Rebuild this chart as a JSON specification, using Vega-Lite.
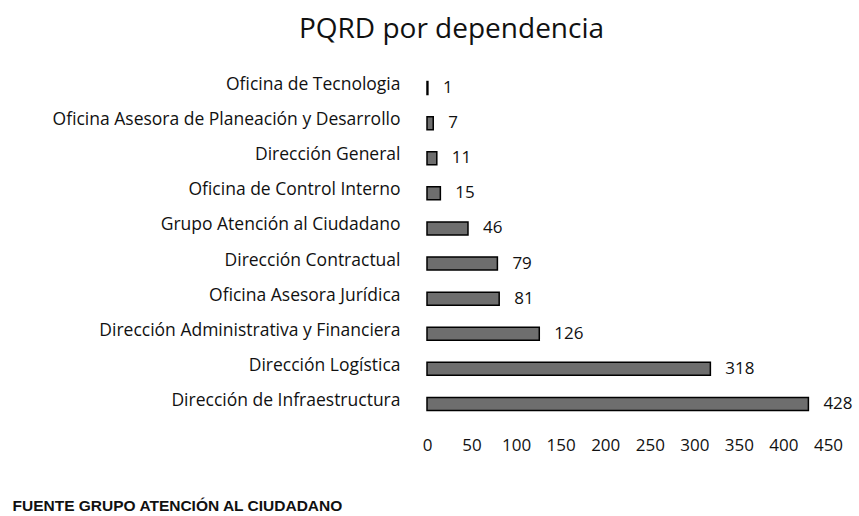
{
  "$schema": "https://vega.github.io/schema/vega-lite/v6.json",
  "autosize": "none",
  "width": 401,
  "height": 350,
  "padding": {"left": 427, "top": 71, "right": 31, "bottom": 95},
  "background": "white",
  "title": {
    "text": "PQRD por dependencia",
    "font": "Open Sans",
    "fontSize": 28,
    "fontWeight": "normal",
    "color": "#111",
    "anchor": "middle",
    "frame": "group",
    "dx": -176,
    "offset": 27
  },
  "data": {
    "values": [
      {"dependencia": "Oficina de Tecnologia", "pqrd": 1},
      {"dependencia": "Oficina Asesora de Planeación y Desarrollo", "pqrd": 7},
      {"dependencia": "Dirección General", "pqrd": 11},
      {"dependencia": "Oficina de Control Interno", "pqrd": 15},
      {"dependencia": "Grupo Atención al Ciudadano", "pqrd": 46},
      {"dependencia": "Dirección Contractual", "pqrd": 79},
      {"dependencia": "Oficina Asesora Jurídica", "pqrd": 81},
      {"dependencia": "Dirección Administrativa y Financiera", "pqrd": 126},
      {"dependencia": "Dirección Logística", "pqrd": 318},
      {"dependencia": "Dirección de Infraestructura", "pqrd": 428}
    ]
  },
  "encoding": {
    "y": {
      "field": "dependencia",
      "type": "nominal",
      "sort": {"field": "pqrd", "order": "ascending"},
      "scale": {"paddingInner": 0.63, "paddingOuter": 0.3},
      "axis": {
        "title": null,
        "ticks": false,
        "domain": false,
        "labelPadding": 27,
        "labelFont": "Open Sans",
        "labelFontSize": 17.5,
        "labelColor": "#111",
        "labelLimit": 500,
        "labelOffset": -3
      }
    },
    "x": {
      "field": "pqrd",
      "type": "quantitative",
      "scale": {"domain": [0, 450]},
      "axis": {
        "values": [0, 50, 100, 150, 200, 250, 300, 350, 400, 450],
        "grid": false,
        "ticks": false,
        "domain": false,
        "labelPadding": 16,
        "labelFont": "Open Sans",
        "labelFontSize": 17,
        "labelColor": "#111",
        "labelFlush": false,
        "title": "FUENTE GRUPO ATENCIÓN AL CIUDADANO",
        "titleFont": "Liberation Sans",
        "titleFontSize": 15.5,
        "titleFontWeight": "bold",
        "titleColor": "#111",
        "titleAlign": "left",
        "titleBaseline": "middle",
        "titleX": -415,
        "titleY": 84
      }
    }
  },
  "layer": [
    {
      "mark": {"type": "bar", "fill": "#6e6e6e", "stroke": "#000", "strokeWidth": 1.5}
    },
    {
      "mark": {"type": "text", "align": "left", "baseline": "middle", "dx": 15, "font": "Open Sans", "fontSize": 17, "color": "#111"},
      "encoding": {"text": {"field": "pqrd", "type": "quantitative"}}
    }
  ],
  "config": {"view": {"stroke": null}}
}
